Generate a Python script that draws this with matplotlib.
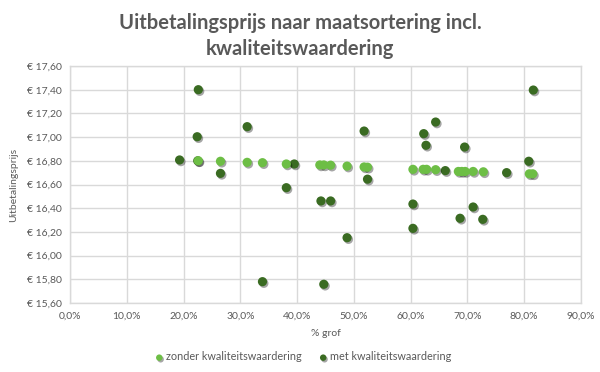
import matplotlib
matplotlib.use("Agg")
import matplotlib.pyplot as plt
import matplotlib.patheffects as pe
from matplotlib.ticker import FuncFormatter, MultipleLocator

plt.rcParams['font.family'] = ['Lato', 'DejaVu Sans']

title = "Uitbetalingsprijs naar maatsortering incl.\nkwaliteitswaardering"
x_label = "% grof"
y_label = "Uitbetalingsprijs"
series_names = ["zonder kwaliteitswaardering", "met kwaliteitswaardering"]

# zonder kwaliteitswaardering
zonder_x = [22.6, 26.5, 31.2, 33.9, 38.1, 44.0, 44.7, 45.9, 48.8, 51.8, 52.4,
            60.4, 62.2, 62.8, 64.4, 68.4, 69.0, 69.6, 71.0, 72.8, 80.9, 81.5]
zonder_y = [16.800, 16.796, 16.787, 16.784, 16.773, 16.765, 16.765, 16.763, 16.755, 16.748, 16.746,
            16.728, 16.728, 16.728, 16.725, 16.710, 16.710, 16.710, 16.710, 16.707, 16.690, 16.690]

# met kwaliteitswaardering
met_x = [19.3, 22.6, 22.4, 22.5, 26.5, 31.2, 33.9, 38.1, 39.5, 44.2, 45.9, 44.7, 48.8,
         51.8, 52.4, 60.4, 60.4, 62.3, 62.7, 64.4, 66.1, 68.7, 69.5, 71.0, 72.7,
         76.9, 80.8, 81.6]
met_y = [16.807, 17.400, 17.003, 16.800, 16.694, 17.088, 15.780, 16.573, 16.773, 16.461, 16.461, 15.758, 16.151,
         17.051, 16.645, 16.230, 16.435, 17.029, 16.931, 17.127, 16.717, 16.315, 16.916, 16.410, 16.306,
         16.700, 16.796, 17.397]

light = "#6DBE45"
dark = "#3A6B22"
text_col = "#595959"
grid_col = "#D9D9D9"

fig = plt.figure(figsize=(6.0, 3.72), dpi=100)
ax = fig.add_axes([70/600, 1-303/372, (581-70)/600, (303-66)/372])

shadow = [pe.SimplePatchShadow(offset=(1.0, -1.2), shadow_rgbFace="#000000", alpha=0.35), pe.Normal()]
ax.scatter([v/100 for v in met_x], met_y, s=44, color=dark, zorder=3,
           label=series_names[1], linewidths=0, path_effects=shadow)
ax.scatter([v/100 for v in zonder_x], zonder_y, s=44, color=light, zorder=4,
           label=series_names[0], linewidths=0, path_effects=shadow)

ax.set_xlim(0, 0.9)
ax.set_ylim(15.6, 17.6)
ax.xaxis.set_major_locator(MultipleLocator(0.1))
ax.yaxis.set_major_locator(MultipleLocator(0.2))
ax.xaxis.set_major_formatter(FuncFormatter(lambda v, p: f"{v*100:.1f}%".replace(".", ",")))
ax.yaxis.set_major_formatter(FuncFormatter(lambda v, p: f"€ {v:.2f}".replace(".", ",")))
ax.grid(True, color=grid_col, linewidth=1.0)
ax.set_axisbelow(True)
for s in ax.spines.values():
    s.set_color(grid_col)
    s.set_linewidth(1.0)
ax.tick_params(length=0, labelsize=7.5, labelcolor=text_col, pad=6)

ax.set_xlabel(x_label, fontsize=7.5, color=text_col, labelpad=6)
ax.set_ylabel(y_label, fontsize=7.5, color=text_col, labelpad=6)

fig.text(0.5, 1-36/372, title, ha="center", va="center", fontsize=14.5,
         fontweight="bold", color=text_col, linespacing=1.35)

handles, labels = ax.get_legend_handles_labels()
leg = fig.legend(handles[::-1], labels[::-1], loc="center", bbox_to_anchor=(0.505, 1-357/372),
                 ncol=2, frameon=False, fontsize=7.8, handletextpad=0.2, columnspacing=1.6,
                 handlelength=0.8, markerscale=0.7, borderaxespad=0)
for t in leg.get_texts():
    t.set_color(text_col)

fig.savefig("out.png", dpi=100)
